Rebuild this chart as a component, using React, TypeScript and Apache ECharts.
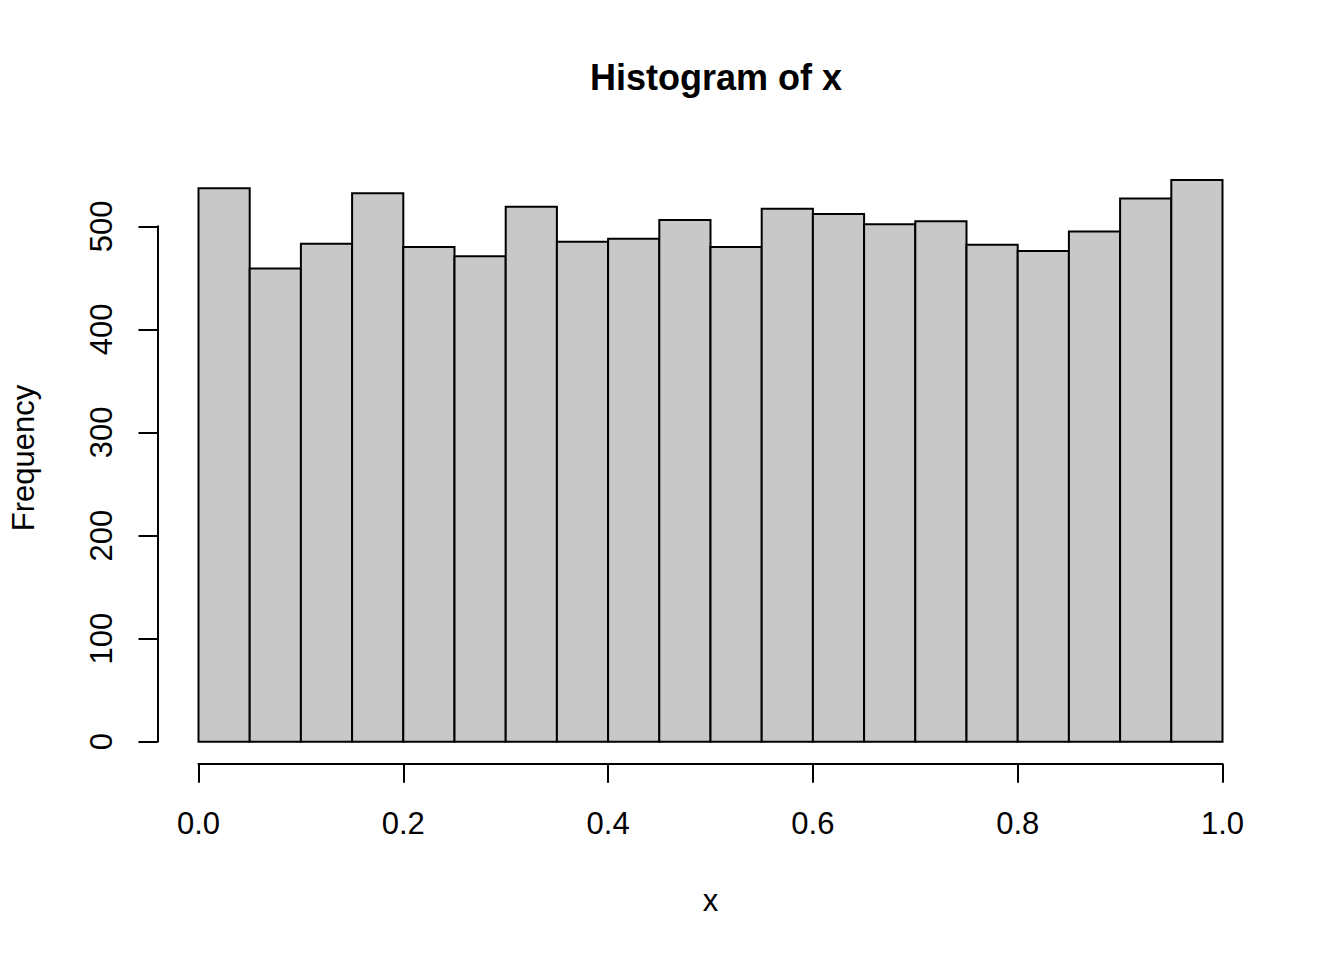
import React, { useEffect, useRef } from "react";
import * as echarts from "echarts";

const binStarts = [0.0, 0.05, 0.1, 0.15, 0.2, 0.25, 0.3, 0.35, 0.4, 0.45, 0.5, 0.55, 0.6, 0.65, 0.7, 0.75, 0.8, 0.85, 0.9, 0.95];
const binEnds = [0.05, 0.1, 0.15, 0.2, 0.25, 0.3, 0.35, 0.4, 0.45, 0.5, 0.55, 0.6, 0.65, 0.7, 0.75, 0.8, 0.85, 0.9, 0.95, 1.0];
const frequencies = [537, 459, 483, 532, 480, 471, 519, 485, 488, 506, 480, 517, 512, 502, 505, 482, 476, 495, 527, 545];

const FONT = "'Liberation Sans', Arial, Helvetica, sans-serif";
const LABEL_SIZE = 31;

export default function App() {
  const ref = useRef<HTMLDivElement>(null);

  useEffect(() => {
    if (!ref.current) return;
    const chart = echarts.init(ref.current, undefined, { renderer: "svg" });
    const data = binStarts.map((s, i) => [s, binEnds[i], frequencies[i]]);
    chart.setOption({
      animation: false,
      backgroundColor: "#ffffff",
      title: {
        text: "Histogram of x",
        left: 716,
        top: 59,
        padding: 0,
        textAlign: "center",
        textStyle: { fontFamily: FONT, fontSize: 36, fontWeight: "bold", color: "#000000" },
      },
      graphic: [
        {
          type: "text",
          x: 23.5,
          y: 458,
          rotation: Math.PI / 2,
          style: {
            text: "Frequency",
            fontFamily: FONT,
            fontSize: LABEL_SIZE,
            fill: "#000000",
            textAlign: "center",
            textVerticalAlign: "middle",
          },
        },
      ],
      grid: { left: 198.5, right: 121.5, top: 226.3, bottom: 218.3, containLabel: false },
      xAxis: {
        type: "value",
        min: 0,
        max: 1,
        interval: 0.2,
        offset: 22,
        name: "x",
        nameLocation: "middle",
        nameGap: 121,
        nameTextStyle: { fontFamily: FONT, fontSize: LABEL_SIZE, color: "#000000" },
        axisLine: { show: true, onZero: false, lineStyle: { color: "#000000", width: 2 } },
        axisTick: { show: true, length: 19, lineStyle: { color: "#000000", width: 2 } },
        axisLabel: {
          margin: 44,
          fontFamily: FONT,
          fontSize: LABEL_SIZE,
          color: "#000000",
          formatter: (v: number) => v.toFixed(1),
        },
        splitLine: { show: false },
      },
      yAxis: {
        type: "value",
        min: 0,
        max: 500,
        interval: 100,
        offset: 41,
        axisLine: { show: true, onZero: false, lineStyle: { color: "#000000", width: 2 } },
        axisTick: { show: true, length: 19, lineStyle: { color: "#000000", width: 2 } },
        axisLabel: { rotate: 90, margin: 41, fontFamily: FONT, fontSize: LABEL_SIZE, color: "#000000" },
        splitLine: { show: false },
      },
      series: [
        {
          type: "custom",
          clip: false,
          encode: { x: [0, 1], y: 2 },
          data,
          renderItem: (params: any, api: any) => {
            const tl = api.coord([api.value(0), api.value(2)]);
            const br = api.coord([api.value(1), 0]);
            return {
              type: "rect",
              shape: { x: tl[0], y: tl[1], width: br[0] - tl[0], height: br[1] - tl[1] },
              style: { fill: "#C8C8C8", stroke: "#000000", lineWidth: 2 },
            };
          },
        },
      ],
    });
    return () => chart.dispose();
  }, []);

  return (
    <div
      ref={ref}
      style={{ position: "fixed", left: 0, top: 0, width: 1344, height: 960, background: "#ffffff" }}
    />
  );
}
